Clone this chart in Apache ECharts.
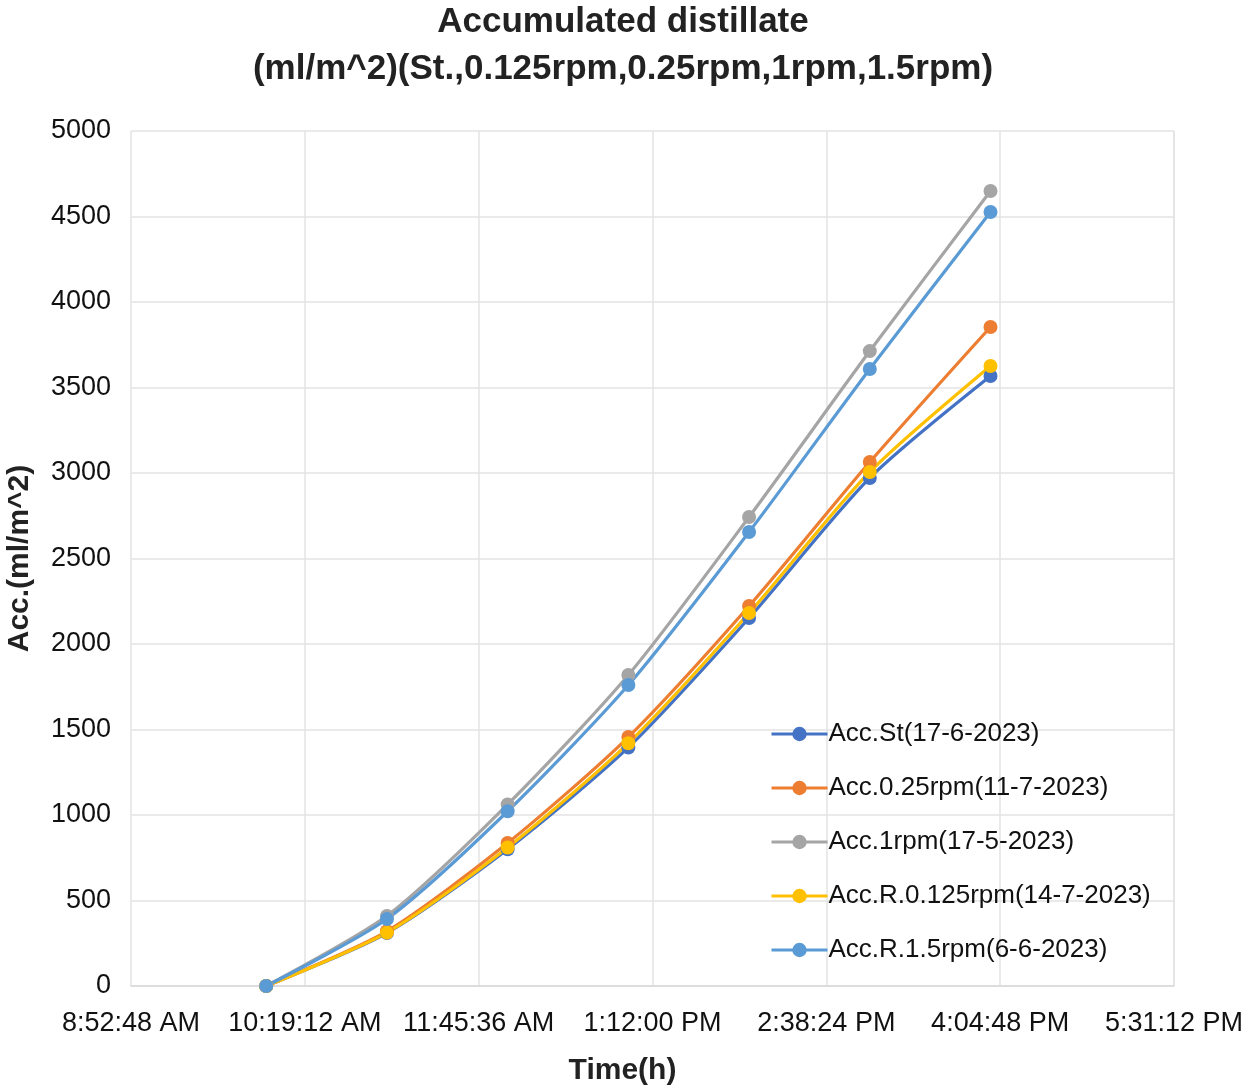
<!DOCTYPE html>
<html>
<head>
<meta charset="utf-8">
<script src="https://cdn.jsdelivr.net/npm/echarts@6/dist/echarts.min.js"></script>
<style>
html,body{margin:0;padding:0;background:#fff;}
#main{width:1250px;height:1092px;}
</style>
</head>
<body>
<div id="main"></div>
<script>
// Clock time of each reading
const times = ["10:00", "11:00", "12:00", "13:00", "14:00", "15:00", "16:00"];
const seriesNames = ["Acc.St(17-6-2023)", "Acc.0.25rpm(11-7-2023)", "Acc.1rpm(17-5-2023)", "Acc.R.0.125rpm(14-7-2023)", "Acc.R.1.5rpm(6-6-2023)"];
const accSt   = [0, 310, 800, 1395, 2152, 2971, 3567];
const acc025  = [0, 320, 836, 1456, 2222, 3064, 3854];
const acc1    = [0, 410, 1062, 1819, 2743, 3713, 4649];
const acc0125 = [0, 312, 810, 1420, 2181, 3006, 3626];
const acc15   = [0, 392, 1022, 1760, 2655, 3608, 4526];
const colors  = ["#4472C4", "#ED7D31", "#A5A5A5", "#FFC000", "#5B9BD5"];

// x axis: 8:52:48 AM start, major unit 1:26:24 (86.4 min), 7 ticks
const axisStartMin = 8 * 60 + 52.8;
const axisStepMin = 86.4;
const axisSteps = 6;

function toMin(t) { const p = t.split(":"); return (+p[0]) * 60 + (+p[1]); }
function fmt(offsetMin) {
  let totalSec = Math.round((offsetMin + axisStartMin) * 60);
  let h = Math.floor(totalSec / 3600);
  let m = Math.floor((totalSec % 3600) / 60);
  let s = totalSec % 60;
  const ap = h >= 12 ? "PM" : "AM";
  let h12 = h % 12; if (h12 === 0) h12 = 12;
  return h12 + ":" + String(m).padStart(2, "0") + ":" + String(s).padStart(2, "0") + " " + ap;
}

const allData = [accSt, acc025, acc1, acc0125, acc15];
const FONT = "Liberation Sans";

const series = allData.map((arr, i) => ({
  name: seriesNames[i],
  type: "line",
  smooth: 0.25,
  symbol: "circle",
  symbolSize: 14,
  lineStyle: { width: 3.2, color: colors[i] },
  itemStyle: { color: colors[i] },
  data: arr.map((v, j) => [toMin(times[j]) - axisStartMin, v])
}));

const chart = echarts.init(document.getElementById("main"));
chart.setOption({
  animation: false,
  backgroundColor: "#ffffff",
  title: {
    text: "Accumulated distillate\n(ml/m^2)(St.,0.125rpm,0.25rpm,1rpm,1.5rpm)",
    left: 618, textAlign: "center", top: -6,
    textStyle: { fontFamily: FONT, fontSize: 35, fontWeight: "bold", color: "#222", lineHeight: 47 }
  },
  legend: {
    orient: "vertical",
    left: 765, top: 716,
    itemGap: 28,
    itemWidth: 56, itemHeight: 18,
    lineStyle: { width: 3 },
    textStyle: { fontFamily: FONT, fontSize: 26, color: "#111", padding: [0, 0, 0, -4] },
    data: seriesNames
  },
  grid: { left: 131, right: 76, top: 131, bottom: 106, outerBoundsMode: "none", containLabel: false },
  xAxis: {
    type: "value",
    min: 0, max: axisStepMin * axisSteps, interval: axisStepMin,
    name: "Time(h)", nameLocation: "middle", nameGap: 70,
    nameTextStyle: { fontFamily: FONT, fontSize: 30, fontWeight: "bold", color: "#222", padding: [0, 60, 0, 0] },
    axisLine: { show: true, lineStyle: { color: "#d9d9d9", width: 1.5 } },
    axisTick: { show: false },
    splitLine: { show: true, lineStyle: { color: "#e3e3e3", width: 1.5 } },
    axisLabel: { formatter: fmt, fontFamily: FONT, fontSize: 27, color: "#111", margin: 24 }
  },
  yAxis: {
    type: "value",
    min: 0, max: 5000, interval: 500,
    name: "Acc.(ml/m^2)", nameLocation: "middle", nameGap: 96, nameRotate: 90,
    nameTextStyle: { fontFamily: FONT, fontSize: 30, fontWeight: "bold", color: "#222" },
    axisLine: { show: false },
    axisTick: { show: false },
    splitLine: { show: true, lineStyle: { color: "#e3e3e3", width: 1.5 } },
    axisLabel: { formatter: v => String(v), fontFamily: FONT, fontSize: 27, color: "#111", margin: 20 }
  },
  series: series
});
</script>
</body>
</html>
